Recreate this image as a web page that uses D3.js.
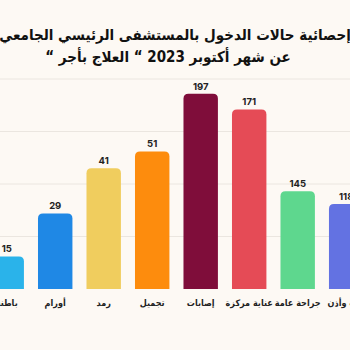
<!DOCTYPE html>
<html lang="ar">
<head>
<meta charset="utf-8">
<script src="https://cdn.jsdelivr.net/npm/d3@7/dist/d3.min.js"></script>
<style>
  html, body { margin: 0; padding: 0; background: #fdf9f4; }
  svg { display: block; }
</style>
</head>
<body>
<svg id="chart" width="350" height="350"></svg>
<script>
// Data
const categories = ["باطنة", "أورام", "رمد", "تجميل", "إصابات", "عناية مركزة", "جراحة عامة", "أنف وأذن"];
const valueLabels = [15, 29, 41, 51, 197, 171, 145, 118];
// bar heights as drawn in the picture, in axis units (gridlines every 50)
const barValues = [31, 72, 115, 131, 186, 171, 93, 81];
const colors = ["#2ab3ea", "#1f88e5", "#f0cd5e", "#fd8c0d", "#7f0d3a", "#e54b56", "#5ed78e", "#6372e2"];
const gridTicks = [0, 50, 100, 150, 200];
const titleLines = ["إحصائية حالات الدخول بالمستشفى الرئيسي الجامعي", "عن شهر أكتوبر 2023 “ العلاج بأجر “"];

const svg = d3.select("#chart");
const W = 350, H = 350;
svg.append("rect").attr("width", W).attr("height", H).attr("fill", "#fdf9f4");

const x = d3.scaleBand()
  .domain(categories)
  .range([-10.5, 363.4])
  .paddingInner(0.29)
  .paddingOuter(0);

const y = d3.scaleLinear().domain([0, 200]).range([289, 79]);

// gridlines
svg.append("g").selectAll("line")
  .data(gridTicks.filter(d => d > 0))
  .join("line")
  .attr("x1", 0).attr("x2", W)
  .attr("y1", d => y(d)).attr("y2", d => y(d))
  .attr("stroke", "#ebe6e0").attr("stroke-width", 1);

// bars with rounded top corners
function barPath(x0, w, yTop, yBase, r) {
  r = Math.min(r, w / 2, yBase - yTop);
  return `M${x0},${yBase}V${yTop + r}Q${x0},${yTop} ${x0 + r},${yTop}H${x0 + w - r}Q${x0 + w},${yTop} ${x0 + w},${yTop + r}V${yBase}Z`;
}

const data = categories.map((c, i) => ({ c, v: barValues[i], label: valueLabels[i], color: colors[i] }));

svg.append("g").selectAll("path")
  .data(data)
  .join("path")
  .attr("d", d => barPath(x(d.c), x.bandwidth(), y(d.v), y(0), 5))
  .attr("fill", d => d.color);

// value labels
svg.append("g").selectAll("text")
  .data(data)
  .join("text")
  .attr("x", d => x(d.c) + x.bandwidth() / 2)
  .attr("y", d => y(d.v) - 4)
  .attr("text-anchor", "middle")
  .attr("font-family", "Inter, Roboto, sans-serif")
  .attr("font-weight", 700)
  .attr("font-size", 9.5)
  .attr("fill", "#222")
  .text(d => d.label);

// category labels
svg.append("g").selectAll("text")
  .data(data)
  .join("text")
  .attr("x", d => x(d.c) + x.bandwidth() / 2)
  .attr("y", 306)
  .attr("text-anchor", "middle")
  .attr("direction", "rtl")
  .attr("font-family", "'DejaVu Sans Condensed', 'DejaVu Sans', sans-serif")
  .attr("font-weight", 700)
  .attr("font-size", 9)
  .attr("fill", "#222")
  .text(d => d.c);

// title
svg.append("g").selectAll("text")
  .data(titleLines)
  .join("text")
  .attr("x", (d, i) => i === 0 ? 175 : 168)
  .attr("y", (d, i) => 40 + i * 22)
  .attr("text-anchor", "middle")
  .attr("direction", "rtl")
  .attr("font-family", "'DejaVu Sans Condensed', 'DejaVu Sans', sans-serif")
  .attr("font-weight", 700)
  .attr("font-size", 15)
  .attr("fill", "#111")
  .text(d => d);
</script>
</body>
</html>
